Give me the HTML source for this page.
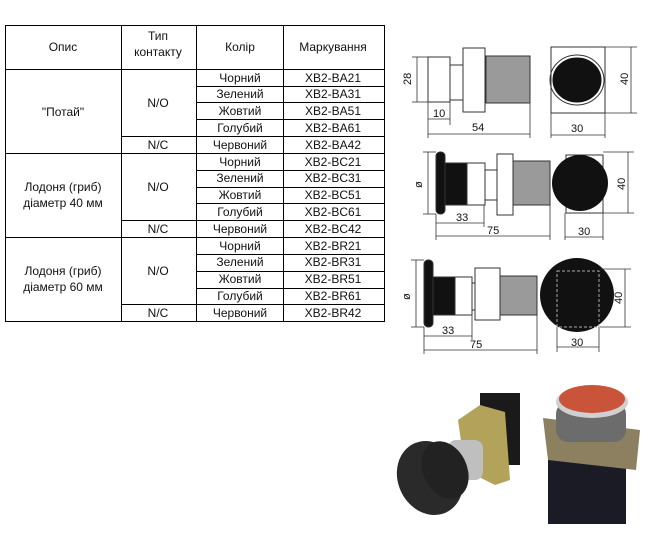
<!DOCTYPE html>
<html><head><meta charset="utf-8"><style>
body{margin:0;background:#fff;width:657px;height:536px;overflow:hidden}
svg{display:block}
text{font-family:"Liberation Sans",sans-serif;font-size:12px;fill:#111}
.d{font-size:11px}
</style></head><body>
<svg width="657" height="536" viewBox="0 0 657 536" xmlns="http://www.w3.org/2000/svg">
<!-- table -->
<g stroke="#000" stroke-width="1" fill="none">
<rect x="5.5" y="25.5" width="379" height="296"/>
<line x1="5" y1="69.5" x2="384" y2="69.5"/>
<line x1="5" y1="153.5" x2="384" y2="153.5"/>
<line x1="5" y1="237.5" x2="384" y2="237.5"/>
<line x1="121.5" y1="25" x2="121.5" y2="322"/>
<line x1="196.5" y1="25" x2="196.5" y2="322"/>
<line x1="283.5" y1="25" x2="283.5" y2="322"/>
<g>
<line x1="121" y1="136.5" x2="384" y2="136.5"/>
<line x1="121" y1="220.5" x2="384" y2="220.5"/>
<line x1="121" y1="304.5" x2="384" y2="304.5"/>
<line x1="196" y1="86.5" x2="384" y2="86.5"/>
<line x1="196" y1="102.5" x2="384" y2="102.5"/>
<line x1="196" y1="119.5" x2="384" y2="119.5"/>
<line x1="196" y1="170.5" x2="384" y2="170.5"/>
<line x1="196" y1="187.5" x2="384" y2="187.5"/>
<line x1="196" y1="203.5" x2="384" y2="203.5"/>
<line x1="196" y1="254.5" x2="384" y2="254.5"/>
<line x1="196" y1="271.5" x2="384" y2="271.5"/>
<line x1="196" y1="288.5" x2="384" y2="288.5"/>
</g></g>
<g text-anchor="middle">
<text x="63" y="51">Опис</text>
<text x="158" y="40">Тип</text><text x="158" y="56">контакту</text>
<text x="240" y="51">Колір</text>
<text x="333" y="51">Маркування</text>
<text x="63" y="116">"Потай"</text>
<text x="158" y="107">N/O</text><text x="158" y="149">N/C</text>
<text x="63" y="191">Лодоня (гриб)</text><text x="63" y="207">діаметр 40 мм</text>
<text x="158" y="191">N/O</text><text x="158" y="233">N/C</text>
<text x="63" y="275">Лодоня (гриб)</text><text x="63" y="291">діаметр 60 мм</text>
<text x="158" y="275">N/O</text><text x="158" y="317">N/C</text>
<text x="240" y="82">Чорний</text><text x="333" y="82">XB2-BA21</text>
<text x="240" y="98">Зелений</text><text x="333" y="98">XB2-BA31</text>
<text x="240" y="115">Жовтий</text><text x="333" y="115">XB2-BA51</text>
<text x="240" y="132">Голубий</text><text x="333" y="132">XB2-BA61</text>
<text x="240" y="149">Червоний</text><text x="333" y="149">XB2-BA42</text>
<text x="240" y="166">Чорний</text><text x="333" y="166">XB2-BC21</text>
<text x="240" y="182">Зелений</text><text x="333" y="182">XB2-BC31</text>
<text x="240" y="199">Жовтий</text><text x="333" y="199">XB2-BC51</text>
<text x="240" y="216">Голубий</text><text x="333" y="216">XB2-BC61</text>
<text x="240" y="233">Червоний</text><text x="333" y="233">XB2-BC42</text>
<text x="240" y="250">Чорний</text><text x="333" y="250">XB2-BR21</text>
<text x="240" y="266">Зелений</text><text x="333" y="266">XB2-BR31</text>
<text x="240" y="283">Жовтий</text><text x="333" y="283">XB2-BR51</text>
<text x="240" y="300">Голубий</text><text x="333" y="300">XB2-BR61</text>
<text x="240" y="317">Червоний</text><text x="333" y="317">XB2-BR42</text>
</g>

<!-- drawing 1 -->
<g stroke="#333" stroke-width="1">
<rect x="428" y="57" width="22" height="45" fill="#fff"/>
<rect x="450" y="65" width="13" height="35" fill="#fff"/>
<rect x="486" y="56" width="44" height="47" fill="#9a9a9a"/>
<rect x="463" y="48" width="22" height="64" fill="#fff"/>
<rect x="551" y="47" width="54" height="66" fill="#fff"/>
</g>
<ellipse cx="577" cy="80" rx="25" ry="23" fill="#111" stroke="#fff" stroke-width="1"/>
<ellipse cx="577" cy="80" rx="27" ry="25" fill="none" stroke="#333"/>
<g stroke="#333" stroke-width="0.8" fill="none">
<line x1="417" y1="57" x2="417" y2="102"/><line x1="412" y1="57" x2="428" y2="57"/><line x1="412" y1="102" x2="428" y2="102"/>
<line x1="428" y1="102" x2="428" y2="138"/><line x1="450" y1="102" x2="450" y2="125"/><line x1="530" y1="103" x2="530" y2="138"/>
<line x1="428" y1="119" x2="450" y2="119"/><line x1="428" y1="134" x2="530" y2="134"/>
<line x1="551" y1="113" x2="551" y2="138"/><line x1="605" y1="113" x2="605" y2="138"/><line x1="551" y1="135" x2="605" y2="135"/>
<line x1="631" y1="47" x2="631" y2="113"/><line x1="605" y1="47" x2="637" y2="47"/><line x1="605" y1="113" x2="637" y2="113"/>
</g>
<text class="d" x="0" y="0" transform="translate(411,85) rotate(-90)">28</text>
<text class="d" x="433" y="117">10</text>
<text class="d" x="472" y="131">54</text>
<text class="d" x="571" y="132">30</text>
<text class="d" transform="translate(628,85) rotate(-90)">40</text>

<!-- drawing 2 -->
<g stroke="#333" stroke-width="1">
<rect x="436" y="152" width="9" height="62" rx="4" fill="#111"/>
<rect x="445" y="163" width="22" height="42" fill="#111"/>
<rect x="467" y="163" width="18" height="42" fill="#fff"/>
<rect x="485" y="170" width="12" height="30" fill="#fff"/>
<rect x="513" y="161" width="37" height="44" fill="#9a9a9a"/>
<rect x="497" y="154" width="16" height="61" fill="#fff"/>
<rect x="566" y="155" width="37" height="58" fill="#fff"/>
</g>
<circle cx="580" cy="183" r="28" fill="#111"/>
<g stroke="#333" stroke-width="0.8" fill="none">
<line x1="428" y1="152" x2="428" y2="214"/><line x1="423" y1="152" x2="436" y2="152"/><line x1="423" y1="214" x2="436" y2="214"/>
<line x1="436" y1="214" x2="436" y2="240"/><line x1="484" y1="205" x2="484" y2="227"/><line x1="550" y1="205" x2="550" y2="240"/>
<line x1="436" y1="223" x2="484" y2="223"/><line x1="436" y1="236" x2="550" y2="236"/>
<line x1="565" y1="213" x2="565" y2="240"/><line x1="603" y1="213" x2="603" y2="240"/><line x1="565" y1="237" x2="603" y2="237"/>
<line x1="628" y1="152" x2="628" y2="213"/><line x1="603" y1="152" x2="634" y2="152"/><line x1="603" y1="213" x2="634" y2="213"/>
</g>
<text class="d" transform="translate(422,188) rotate(-90)">ø</text>
<text class="d" x="456" y="221">33</text>
<text class="d" x="487" y="234">75</text>
<text class="d" x="578" y="235">30</text>
<text class="d" transform="translate(625,190) rotate(-90)">40</text>

<!-- drawing 3 -->
<g stroke="#333" stroke-width="1">
<rect x="424" y="260" width="9" height="67" rx="4" fill="#111"/>
<rect x="433" y="277" width="22" height="38" fill="#111"/>
<rect x="455" y="277" width="17" height="38" fill="#fff"/>
<rect x="472" y="283" width="8" height="27" fill="#fff"/>
<rect x="500" y="276" width="37" height="39" fill="#9a9a9a"/>
<rect x="475" y="268" width="25" height="52" fill="#fff"/>
</g>
<circle cx="577" cy="295" r="37" fill="#111"/>
<rect x="557" y="271" width="42" height="56" fill="none" stroke="#aaa" stroke-dasharray="3,2"/>
<g stroke="#333" stroke-width="0.8" fill="none">
<line x1="416" y1="260" x2="416" y2="327"/><line x1="411" y1="260" x2="424" y2="260"/><line x1="411" y1="327" x2="424" y2="327"/>
<line x1="424" y1="327" x2="424" y2="354"/><line x1="472" y1="315" x2="472" y2="340"/><line x1="537" y1="315" x2="537" y2="354"/>
<line x1="424" y1="336" x2="472" y2="336"/><line x1="424" y1="350" x2="537" y2="350"/>
<line x1="557" y1="327" x2="557" y2="352"/><line x1="599" y1="327" x2="599" y2="352"/><line x1="557" y1="347" x2="599" y2="347"/>
<line x1="625" y1="269" x2="625" y2="327"/><line x1="600" y1="269" x2="631" y2="269"/><line x1="600" y1="327" x2="631" y2="327"/>
</g>
<text class="d" transform="translate(410,300) rotate(-90)">ø</text>
<text class="d" x="442" y="334">33</text>
<text class="d" x="470" y="348">75</text>
<text class="d" x="571" y="346">30</text>
<text class="d" transform="translate(622,304) rotate(-90)">40</text>

<!-- photos -->
<g>
<rect x="480" y="393" width="40" height="72" fill="#1a1a1a"/>
<polygon points="458,420 480,405 505,412 510,480 495,485 465,470" fill="#b3a35a"/>
<rect x="448" y="440" width="35" height="40" rx="8" fill="#bfbfbf"/>
<ellipse cx="430" cy="478" rx="32" ry="38" transform="rotate(-25 430 478)" fill="#2a2a2a"/>
<ellipse cx="445" cy="470" rx="22" ry="30" transform="rotate(-25 445 470)" fill="#222"/>
<rect x="548" y="452" width="78" height="72" fill="#1b1b25"/>
<polygon points="543,418 640,430 636,470 548,460" fill="#8c8060"/>
<rect x="556" y="402" width="70" height="40" rx="12" fill="#6c6c6c"/>
<ellipse cx="592" cy="402" rx="36" ry="16" fill="#d0d0d0"/>
<ellipse cx="592" cy="399" rx="33" ry="14" fill="#c9543a"/>
</g>
</svg>
</body></html>
